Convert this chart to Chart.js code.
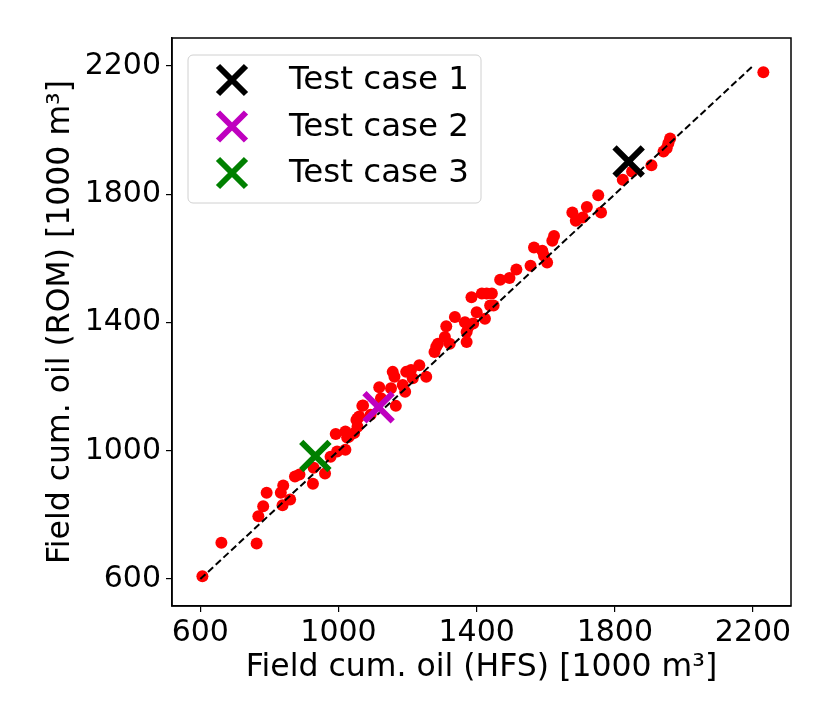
<!DOCTYPE html>
<html>
<head>
<meta charset="utf-8">
<script src="https://cdn.jsdelivr.net/npm/chart.js"></script>
<style>
  body { margin: 0; background: #fff; }
  #wrap { width: 830px; height: 727px; }
</style>
</head>
<body>
<div id="wrap"><canvas id="grafica" width="830" height="727"></canvas></div>
<script>
// valores (1000 m3)
const hfs = [606, 661, 763, 768, 782, 792, 833, 840, 838, 860, 874, 887, 926, 928, 961, 977, 996, 1020,
  992, 1020, 1025, 1045, 1052, 1060, 1071, 1093, 1030, 1055, 1055, 1069, 1118, 1123, 1152, 1157, 1162,
  1166, 1186, 1193, 1196, 1210, 1215, 1234, 1254, 1278, 1283, 1288, 1308, 1322, 1312, 1337, 1366, 1376,
  1371, 1371, 1400, 1439, 1390, 1424, 1449, 1385, 1415, 1429, 1444, 1468, 1495, 1515, 1556, 1566, 1590,
  1595, 1604, 1619, 1624, 1677, 1687, 1707, 1719, 1760, 1752, 1823, 1850, 1906, 1941, 1950, 1955, 1960, 2230];
const rom = [609, 713, 711, 796, 827, 869, 869, 892, 830, 848, 920, 926, 897, 947, 929, 981, 998, 1003,
  1052, 1060, 1041, 1055, 1096, 1107, 1141, 1112, 1044, 1075, 1101, 1140, 1198, 1164, 1195, 1246, 1231,
  1140, 1205, 1184, 1246, 1252, 1226, 1267, 1231, 1308, 1324, 1334, 1355, 1334, 1388, 1417, 1401, 1386,
  1370, 1339, 1432, 1453, 1397, 1412, 1453, 1479, 1490, 1490, 1490, 1533, 1539, 1565, 1577, 1634, 1624,
  1608, 1587, 1655, 1670, 1743, 1717, 1727, 1760, 1743, 1797, 1845, 1871, 1890, 1933, 1943, 1959, 1974, 2180];

const casos = ['Test case 1', 'Test case 2', 'Test case 3'];
const casosHfs = [1840, 1116, 933];
const casosRom = [1902, 1136, 984];
const coloresCasos = ['#000000', '#bf00bf', '#008000'];

const lineaRef = [600, 2200];
const ticksX = [600, 1000, 1400, 1800, 2200];
const ticksY = [600, 1000, 1400, 1800, 2200];

const fuente = "'DejaVu Sans', sans-serif";

const puntos = hfs.map((x, i) => ({ x: x, y: rom[i] }));

const datasets = casos.map((nombre, i) => ({
  label: nombre,
  data: [{ x: casosHfs[i], y: casosRom[i] }],
  pointStyle: 'crossRot',
  pointRadius: 20,
  borderWidth: 6,
  borderColor: coloresCasos[i],
  backgroundColor: coloresCasos[i],
  order: 0
}));
datasets.push({
  label: 'linea',
  type: 'line',
  data: lineaRef.map(v => ({ x: v, y: v })),
  borderColor: '#000',
  borderWidth: 2,
  borderDash: [7, 3.5],
  pointRadius: 0,
  fill: false,
  order: 1
});
datasets.push({
  label: 'ROM',
  data: puntos,
  pointRadius: 6,
  borderWidth: 0,
  backgroundColor: '#ff0000',
  order: 2
});

// marco y leyenda dentro del area
const marco = {
  id: 'marco',
  afterDatasetsDraw(chart) {
    const ctx = chart.ctx;
    const a = chart.chartArea;
    ctx.save();
    ctx.strokeStyle = '#000';
    ctx.lineWidth = 1.5;
    ctx.strokeRect(a.left, a.top, a.right - a.left, a.bottom - a.top);

    // leyenda
    const x0 = 188, y0 = 55, w = 293, h = 148;
    ctx.beginPath();
    ctx.roundRect(x0, y0, w, h, 5);
    ctx.fillStyle = 'rgba(255,255,255,0.8)';
    ctx.fill();
    ctx.strokeStyle = '#d0d0d0';
    ctx.lineWidth = 1;
    ctx.stroke();
    ctx.font = '32.5px ' + fuente;
    ctx.textBaseline = 'middle';
    casos.forEach((nombre, i) => {
      const cy = 80 + i * 46.5;
      const cx = 232;
      const d = 14;
      ctx.strokeStyle = coloresCasos[i];
      ctx.lineWidth = 6;
      ctx.beginPath();
      ctx.moveTo(cx - d, cy - d); ctx.lineTo(cx + d, cy + d);
      ctx.moveTo(cx - d, cy + d); ctx.lineTo(cx + d, cy - d);
      ctx.stroke();
      ctx.fillStyle = '#000';
      ctx.fillText(nombre, 289, cy + 1);
    });
    ctx.restore();
  }
};

new Chart(document.getElementById('grafica'), {
  type: 'scatter',
  data: { datasets: datasets },
  options: {
    responsive: false,
    animation: false,
    layout: { padding: { left: 0, top: 38, right: 39, bottom: 0 } },
    plugins: { legend: { display: false }, tooltip: { enabled: false } },
    scales: {
      x: {
        type: 'linear',
        min: 518,
        max: 2310,
        afterBuildTicks: s => { s.ticks = ticksX.map(v => ({ value: v })); },
        afterFit: s => { s.height = 121; },
        grid: { drawOnChartArea: false, drawTicks: true, tickLength: 6, color: '#000', lineWidth: 1.2 },
        border: { display: true, color: '#000', width: 1.5 },
        ticks: { color: '#000', padding: 3, maxRotation: 0, font: { family: fuente, size: 30 }, callback: v => String(v) },
        title: {
          display: true,
          text: 'Field cum. oil (HFS) [1000 m³]',
          color: '#000',
          font: { family: fuente, size: 31.5 },
          padding: { top: 0, bottom: 40 }
        }
      },
      y: {
        type: 'linear',
        min: 516,
        max: 2287,
        afterBuildTicks: s => { s.ticks = ticksY.map(v => ({ value: v })); },
        afterFit: s => { s.width = 172; },
        grid: { drawOnChartArea: false, drawTicks: true, tickLength: 6, color: '#000', lineWidth: 1.2 },
        border: { display: true, color: '#000', width: 1.5 },
        ticks: { color: '#000', padding: 5, font: { family: fuente, size: 30 }, callback: v => String(v) },
        title: {
          display: true,
          text: 'Field cum. oil (ROM) [1000 m³]',
          color: '#000',
          font: { family: fuente, size: 31.5 },
          padding: { top: 42, bottom: 0 }
        }
      }
    }
  },
  plugins: [marco]
});
</script>
</body>
</html>
